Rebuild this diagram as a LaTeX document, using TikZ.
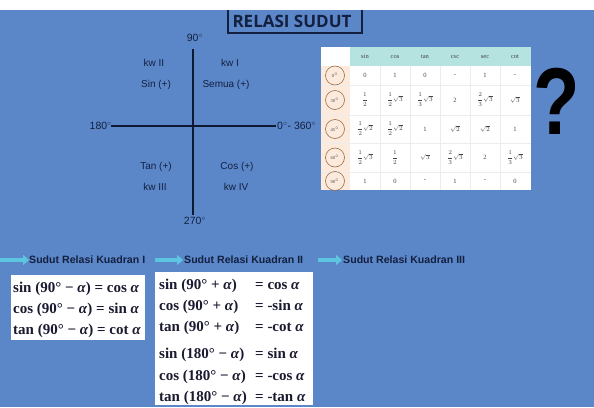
\documentclass[tikz,border=0pt]{standalone}
\usepackage{amsmath}
\usepackage{fontspec}
\setmainfont{Liberation Serif}
\setsansfont{Liberation Sans}
\newfontfamily\titlefont{Open Sans}
\usetikzlibrary{arrows.meta}
\definecolor{bg}{HTML}{5B87C9}
\definecolor{navy}{HTML}{13203F}
\definecolor{arrowcyan}{HTML}{5CC6E0}
\definecolor{headteal}{HTML}{B5E4E0}
\definecolor{peach}{HTML}{FCEBDD}
\definecolor{circbrown}{HTML}{9B6B45}
\definecolor{gridgrey}{HTML}{ECECEC}
\definecolor{celltext}{HTML}{444444}
\definecolor{eqtext}{HTML}{1A1A30}
\newcommand{\trow}[9]{%
  \node[degcirc] (c#1) at (335,#2) {#3};
  \node[cellt] (#1a) at (365,#2) {#4};
  \node[cellt] (#1b) at (395,#2) {#5};
  \node[cellt] (#1c) at (425,#2) {#6};
  \node[cellt] (#1d) at (455,#2) {#7};
  \node[cellt] (#1e) at (485,#2) {#8};
  \node[cellt] (#1f) at (515,#2) {#9};
}
\begin{document}
\begin{tikzpicture}[x=1pt,y=-1pt,
  lbl/.style={inner sep=0pt, text=navy, font=\sffamily\fontsize{10}{12}\selectfont},
  deglbl/.style={inner sep=0pt, text=navy, font=\sffamily\fontsize{10.5}{12}\selectfont},
  axis/.style={draw=navy!80!black, line width=1.8pt},
  head/.style={inner sep=0pt, anchor=west, text=navy, font=\sffamily\bfseries\fontsize{10.6}{13}\selectfont},
  flow/.style={draw=arrowcyan, line width=3.5pt, -{Triangle[length=6pt,width=10pt]}},
  eqbox/.style={fill=white},
  eq/.style={inner sep=0pt, anchor=base west, text=eqtext, font=\bfseries\fontsize{15}{17}\selectfont},
  cellt/.style={inner sep=0pt, text=celltext, font=\fontsize{6.5}{7}\selectfont},
  colhead/.style={inner sep=0pt, text=celltext, font=\fontsize{6.5}{7}\selectfont},
  degcirc/.style={circle, draw=circbrown, line width=0.6pt, minimum size=19pt, inner sep=0pt, text=celltext, font=\fontsize{4.5}{5}\selectfont}
]
\useasboundingbox (0,0) rectangle (594,407);
\fill[bg] (0,0) rectangle (594,407);
% title
\draw[navy, line width=1.5pt] (228,2) rectangle (362,33);
\fill[white] (0,0) rectangle (594,10);
\node[inner sep=0pt, text=navy, font=\titlefont\bfseries\fontsize{17}{19}\selectfont] (title) at (292,21) {RELASI SUDUT};
% axes
\coordinate (top) at (193,49);
\coordinate (bot) at (193,215);
\coordinate (lft) at (111,126);
\coordinate (rgt) at (276,126);
\draw[axis] (top) -- (bot);
\draw[axis] (lft) -- (rgt);
\node[deglbl] (n90) at (195,38) {90$^{\circ}$};
\node[deglbl, anchor=east] (n180) at (112,126) {180$^{\circ}$};
\node[deglbl, anchor=west] (n0) at (277,126) {0$^{\circ}$- 360$^{\circ}$};
\node[deglbl] (n270) at (195,221) {270$^{\circ}$};
\node[lbl] (kw2) at (154,63) {kw II};
\node[lbl] (kw1) at (230,63) {kw I};
\node[lbl] (q2) at (156,85) {Sin (+)};
\node[lbl] (q1) at (226,85) {Semua (+)};
\node[lbl] (q3) at (156,167) {Tan (+)};
\node[lbl] (q4) at (237,167) {Cos (+)};
\node[lbl] (kw3) at (155,187) {kw III};
\node[lbl] (kw4) at (236,187) {kw IV};
% table
\fill[white] (321,47) rectangle (531,190);
\fill[headteal] (350,47) rectangle (531,66);
\fill[peach] (321,66) rectangle (350,190);
\foreach \yy in {85,115,143,172} \draw[gridgrey, line width=0.5pt] (321,\yy) -- (531,\yy);
\foreach \xx in {380,410,440,470,500} \draw[gridgrey, line width=0.5pt] (\xx,66) -- (\xx,190);
\node[colhead] (hsin) at (365,56.5) {sin};
\node[colhead] (hcos) at (395,56.5) {cos};
\node[colhead] (htan) at (425,56.5) {tan};
\node[colhead] (hcsc) at (455,56.5) {csc};
\node[colhead] (hsec) at (485,56.5) {sec};
\node[colhead] (hcot) at (515,56.5) {cot};
\trow{r0}{75.5}{0$^{\circ}$}{0}{1}{0}{-}{1}{-}
\trow{r30}{100}{30$^{\circ}$}{$\dfrac12$}{$\dfrac12\sqrt3$}{$\dfrac13\sqrt3$}{2}{$\dfrac23\sqrt3$}{$\sqrt3$}
\trow{r45}{129}{45$^{\circ}$}{$\dfrac12\sqrt2$}{$\dfrac12\sqrt2$}{1}{$\sqrt2$}{$\sqrt2$}{1}
\trow{r60}{157.5}{60$^{\circ}$}{$\dfrac12\sqrt3$}{$\dfrac12$}{$\sqrt3$}{$\dfrac23\sqrt3$}{2}{$\dfrac13\sqrt3$}
\trow{r90}{181}{90$^{\circ}$}{1}{0}{-}{1}{-}{0}
% question mark
\node[inner sep=0pt, text=black, font=\sffamily\bfseries\fontsize{95}{95}\selectfont, xscale=0.8, transform shape] (qm) at (557,101) {?};
% bottom headings
\coordinate (a1s) at (0,260); \coordinate (a1e) at (29,260);
\coordinate (a2s) at (155,260); \coordinate (a2e) at (183,260);
\coordinate (a3s) at (318,260); \coordinate (a3e) at (342,260);
\draw[flow] (a1s) -- (a1e);
\draw[flow] (a2s) -- (a2e);
\draw[flow] (a3s) -- (a3e);
\node[head] (h1) at (29,260) {Sudut Relasi Kuadran I};
\node[head] (h2) at (184,260) {Sudut Relasi Kuadran II};
\node[head] (h3) at (343,260) {Sudut Relasi Kuadran III};
% boxes
\fill[eqbox] (11,275) rectangle (145,340);
\fill[eqbox] (155,272) rectangle (313,405);
\node[eq] (e11) at (13,292) {sin (90° − \textit{α}) = cos \textit{α}};
\node[eq] (e12) at (13,313) {cos (90° − \textit{α}) = sin \textit{α}};
\node[eq] (e13) at (13,334) {tan (90° − \textit{α}) = cot \textit{α}};
\node[eq] (e21) at (159,289) {sin (90° + \textit{α})};
\node[eq] (e22) at (159,310) {cos (90° + \textit{α})};
\node[eq] (e23) at (159,331) {tan (90° + \textit{α})};
\node[eq] (e24) at (159,358) {sin (180° − \textit{α})};
\node[eq] (e25) at (159,380) {cos (180° − \textit{α})};
\node[eq] (e26) at (159,401) {tan (180° − \textit{α})};
\node[eq] (f21) at (255,289) {= cos \textit{α}};
\node[eq] (f22) at (255,310) {= -sin \textit{α}};
\node[eq] (f23) at (255,331) {= -cot \textit{α}};
\node[eq] (f24) at (255,358) {= sin \textit{α}};
\node[eq] (f25) at (255,380) {= -cos \textit{α}};
\node[eq] (f26) at (255,401) {= -tan \textit{α}};
\end{tikzpicture}
\end{document}
